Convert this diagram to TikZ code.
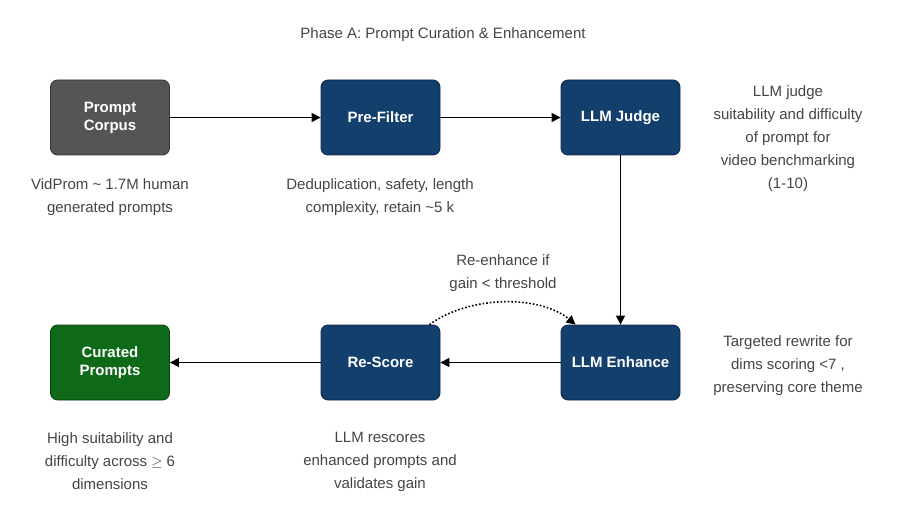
\documentclass[tikz,border=0pt]{standalone}
\usepackage{fontspec}
\setmainfont{Liberation Sans}
\usetikzlibrary{arrows.meta}
\definecolor{nb}{HTML}{133F6D}
\definecolor{nbd}{HTML}{0B2A4C}
\definecolor{ng}{HTML}{555555}
\definecolor{ngd}{HTML}{333333}
\definecolor{ngr}{HTML}{0E6A18}
\definecolor{ngrd}{HTML}{084010}
\definecolor{tx}{HTML}{444444}
\begin{document}
\begin{tikzpicture}[x=1pt,y=-1pt,
 box/.style={draw=nbd,fill=nb,rounded corners=7pt,minimum width=119pt,minimum height=75pt,text=white,font=\fontsize{15}{18}\selectfont\bfseries,align=center,line width=0.8pt},
 lab/.style={text=tx,font=\fontsize{15}{23}\selectfont,align=center},
 arr/.style={-{Triangle[length=9pt,width=9pt]},line width=1.3pt}]
\useasboundingbox (0,0) rectangle (898,508);
\node[lab] (title) at (443,35) {Phase A: Prompt Curation \& Enhancement};
\node[box,fill=ng,draw=ngd] (pc) at (110,117.5) {Prompt\\Corpus};
\node[box] (pf) at (380.5,117.5) {Pre-Filter};
\node[box] (lj) at (620.5,117.5) {LLM Judge};
\node[box,fill=ngr,draw=ngrd] (cp) at (110,362.5) {Curated\\Prompts};
\node[box] (rs) at (380.5,362.5) {Re-Score};
\node[box] (le) at (620.5,362.5) {LLM Enhance};
\node[lab] (l1) at (110,197) {VidProm \textasciitilde{} 1.7M human\\generated prompts};
\node[lab] (l2) at (380,197) {Deduplication, safety, length\\complexity, retain \textasciitilde5 k};
\node[lab] (l3) at (788,139) {LLM judge\\suitability and difficulty\\of prompt for\\video benchmarking\\(1-10)};
\node[lab] (l4) at (503,273) {Re-enhance if\\gain < threshold};
\node[lab] (l5) at (788,366) {Targeted rewrite for\\dims scoring <7 ,\\preserving core theme};
\node[lab] (l6) at (110,461) {High suitability and\\difficulty across $\geq$ 6\\dimensions};
\node[lab] (l7) at (380,462) {LLM rescores\\enhanced prompts and\\validates gain};
\draw[arr] (pc) -- (pf);
\draw[arr] (pf) -- (lj);
\draw[arr] (lj) -- (le);
\draw[arr] (le) -- (rs);
\draw[arr] (rs) -- (cp);
\draw[-{Triangle[length=9pt,width=9pt]},line width=1.6pt,dotted] ([xshift=49pt]rs.north) .. controls (470,295) and (540,295) .. ([xshift=-45pt]le.north);
\end{tikzpicture}
\end{document}
